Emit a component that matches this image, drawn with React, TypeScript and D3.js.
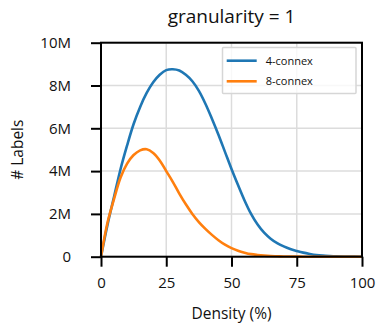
import { useEffect, useRef } from "react";
import * as d3 from "d3";

// density (%) sampled every 2.5
const density = [
  0, 2.5, 5, 7.5, 10, 12.5, 15, 17.5, 20, 22.5, 25, 27.5, 30, 32.5, 35, 37.5, 40,
  42.5, 45, 47.5, 50, 52.5, 55, 57.5, 60, 62.5, 65, 67.5, 70, 72.5, 75, 77.5, 80,
  82.5, 85, 87.5, 90, 95, 100,
];
// labels, millions
const connex4 = [
  0, 1.5, 2.8, 4.1, 5.2, 6.2, 7.0, 7.65, 8.15, 8.5, 8.72, 8.76, 8.7, 8.5, 8.2, 7.75,
  7.15, 6.45, 5.7, 4.9, 4.1, 3.35, 2.63, 2.0, 1.5, 1.12, 0.84, 0.63, 0.48, 0.36, 0.27,
  0.19, 0.13, 0.08, 0.05, 0.03, 0.015, 0.004, 0,
];
const connex8 = [
  0, 1.6, 2.7, 3.7, 4.35, 4.75, 4.97, 5.02, 4.85, 4.5, 4.0, 3.5, 2.95, 2.45, 2.0,
  1.62, 1.3, 1.02, 0.77, 0.56, 0.4, 0.28, 0.19, 0.12, 0.08, 0.05, 0.03, 0.02, 0.01,
  0.006, 0.003, 0, 0, 0, 0, 0, 0, 0, 0,
];
const seriesNames = ["4-connex", "8-connex"];
const colors = ["#1f77b4", "#ff7f0e"];
const xTicks = [0, 25, 50, 75, 100];
const yTicks = [0, 2, 4, 6, 8, 10];

export default function App() {
  const ref = useRef<SVGSVGElement>(null);

  useEffect(() => {
    const svg = d3.select(ref.current);
    svg.selectAll("*").remove();
    const font = "'Open Sans', Lato, sans-serif";
    const left = 101, right = 362, top = 42.7, bottom = 256.7;

    const x = d3.scaleLinear().domain([0, 100]).range([left, right]);
    const y = d3.scaleLinear().domain([0, 10]).range([bottom, top]);

    // grid
    const grid = svg.append("g");
    grid.selectAll("line.gx").data(xTicks).join("line")
      .attr("class", "gx")
      .attr("x1", (d) => x(d)).attr("x2", (d) => x(d))
      .attr("y1", top).attr("y2", bottom)
      .attr("stroke", "#dcdcdc").attr("stroke-width", 1.5);
    grid.selectAll("line.gy").data(yTicks).join("line")
      .attr("class", "gy")
      .attr("x1", left).attr("x2", right)
      .attr("y1", (d) => y(d)).attr("y2", (d) => y(d))
      .attr("stroke", "#dcdcdc").attr("stroke-width", 1.5);

    // curves
    const series = [connex4, connex8];
    const line = d3.line<number>()
      .x((_, i) => x(density[i]))
      .y((d) => y(d))
      .curve(d3.curveCatmullRom.alpha(0.5));
    series.forEach((s, k) => {
      svg.append("path").datum(s)
        .attr("d", line)
        .attr("fill", "none")
        .attr("stroke", colors[k])
        .attr("stroke-width", 2.6);
    });

    // spines
    svg.append("rect")
      .attr("x", left).attr("y", top)
      .attr("width", right - left).attr("height", bottom - top)
      .attr("fill", "none").attr("stroke", "#000").attr("stroke-width", 2);

    // axes
    const xAxis = d3.axisBottom(x).tickValues(xTicks).tickSize(10).tickPadding(11);
    const yAxis = d3.axisLeft(y).tickValues(yTicks).tickSize(10).tickPadding(20)
      .tickFormat((d) => (d === 0 ? "0" : `${d}M`));
    const gx = svg.append("g").attr("transform", `translate(0,${bottom})`).call(xAxis);
    const gy = svg.append("g").attr("transform", `translate(${left},0)`).call(yAxis);
    [gx, gy].forEach((g) => {
      g.select(".domain").remove();
      g.selectAll(".tick line").attr("stroke", "#000").attr("stroke-width", 2);
      g.selectAll(".tick text").attr("fill", "#111").style("font-family", font).style("font-size", "15px");
    });

    // legend
    const lg = svg.append("g");
    lg.append("rect")
      .attr("x", 222.5).attr("y", 47.5).attr("width", 133.5).attr("height", 46)
      .attr("fill", "#fff").attr("fill-opacity", 0.8)
      .attr("stroke", "#d6d6d6").attr("stroke-width", 1.5).attr("rx", 1);
    seriesNames.forEach((n, k) => {
      const ly = 60.7 + k * 20.6;
      lg.append("line")
        .attr("x1", 226.7).attr("x2", 256.7).attr("y1", ly).attr("y2", ly)
        .attr("stroke", colors[k]).attr("stroke-width", 2.6);
      lg.append("text")
        .attr("x", 265.7).attr("y", ly).attr("dy", "0.35em")
        .style("font-family", font).style("font-size", "11px").attr("fill", "#111")
        .text(n);
    });

    // labels
    svg.append("text")
      .attr("x", (left + right) / 2).attr("y", 23)
      .attr("text-anchor", "middle")
      .style("font-family", font).style("font-size", "19px").attr("fill", "#111")
      .text("granularity = 1");
    svg.append("text")
      .attr("x", (left + right) / 2).attr("y", 319)
      .attr("text-anchor", "middle")
      .style("font-family", font).style("font-size", "15.5px").attr("fill", "#111")
      .text("Density (%)");
    svg.append("text")
      .attr("transform", `translate(23,${(top + bottom) / 2}) rotate(-90)`)
      .attr("text-anchor", "middle")
      .style("font-family", font).style("font-size", "15.5px").attr("fill", "#111")
      .text("# Labels");
  }, []);

  return (
    <svg ref={ref} width={376} height={326}
      style={{ position: "absolute", left: 0, top: 0, background: "#fff" }} />
  );
}
